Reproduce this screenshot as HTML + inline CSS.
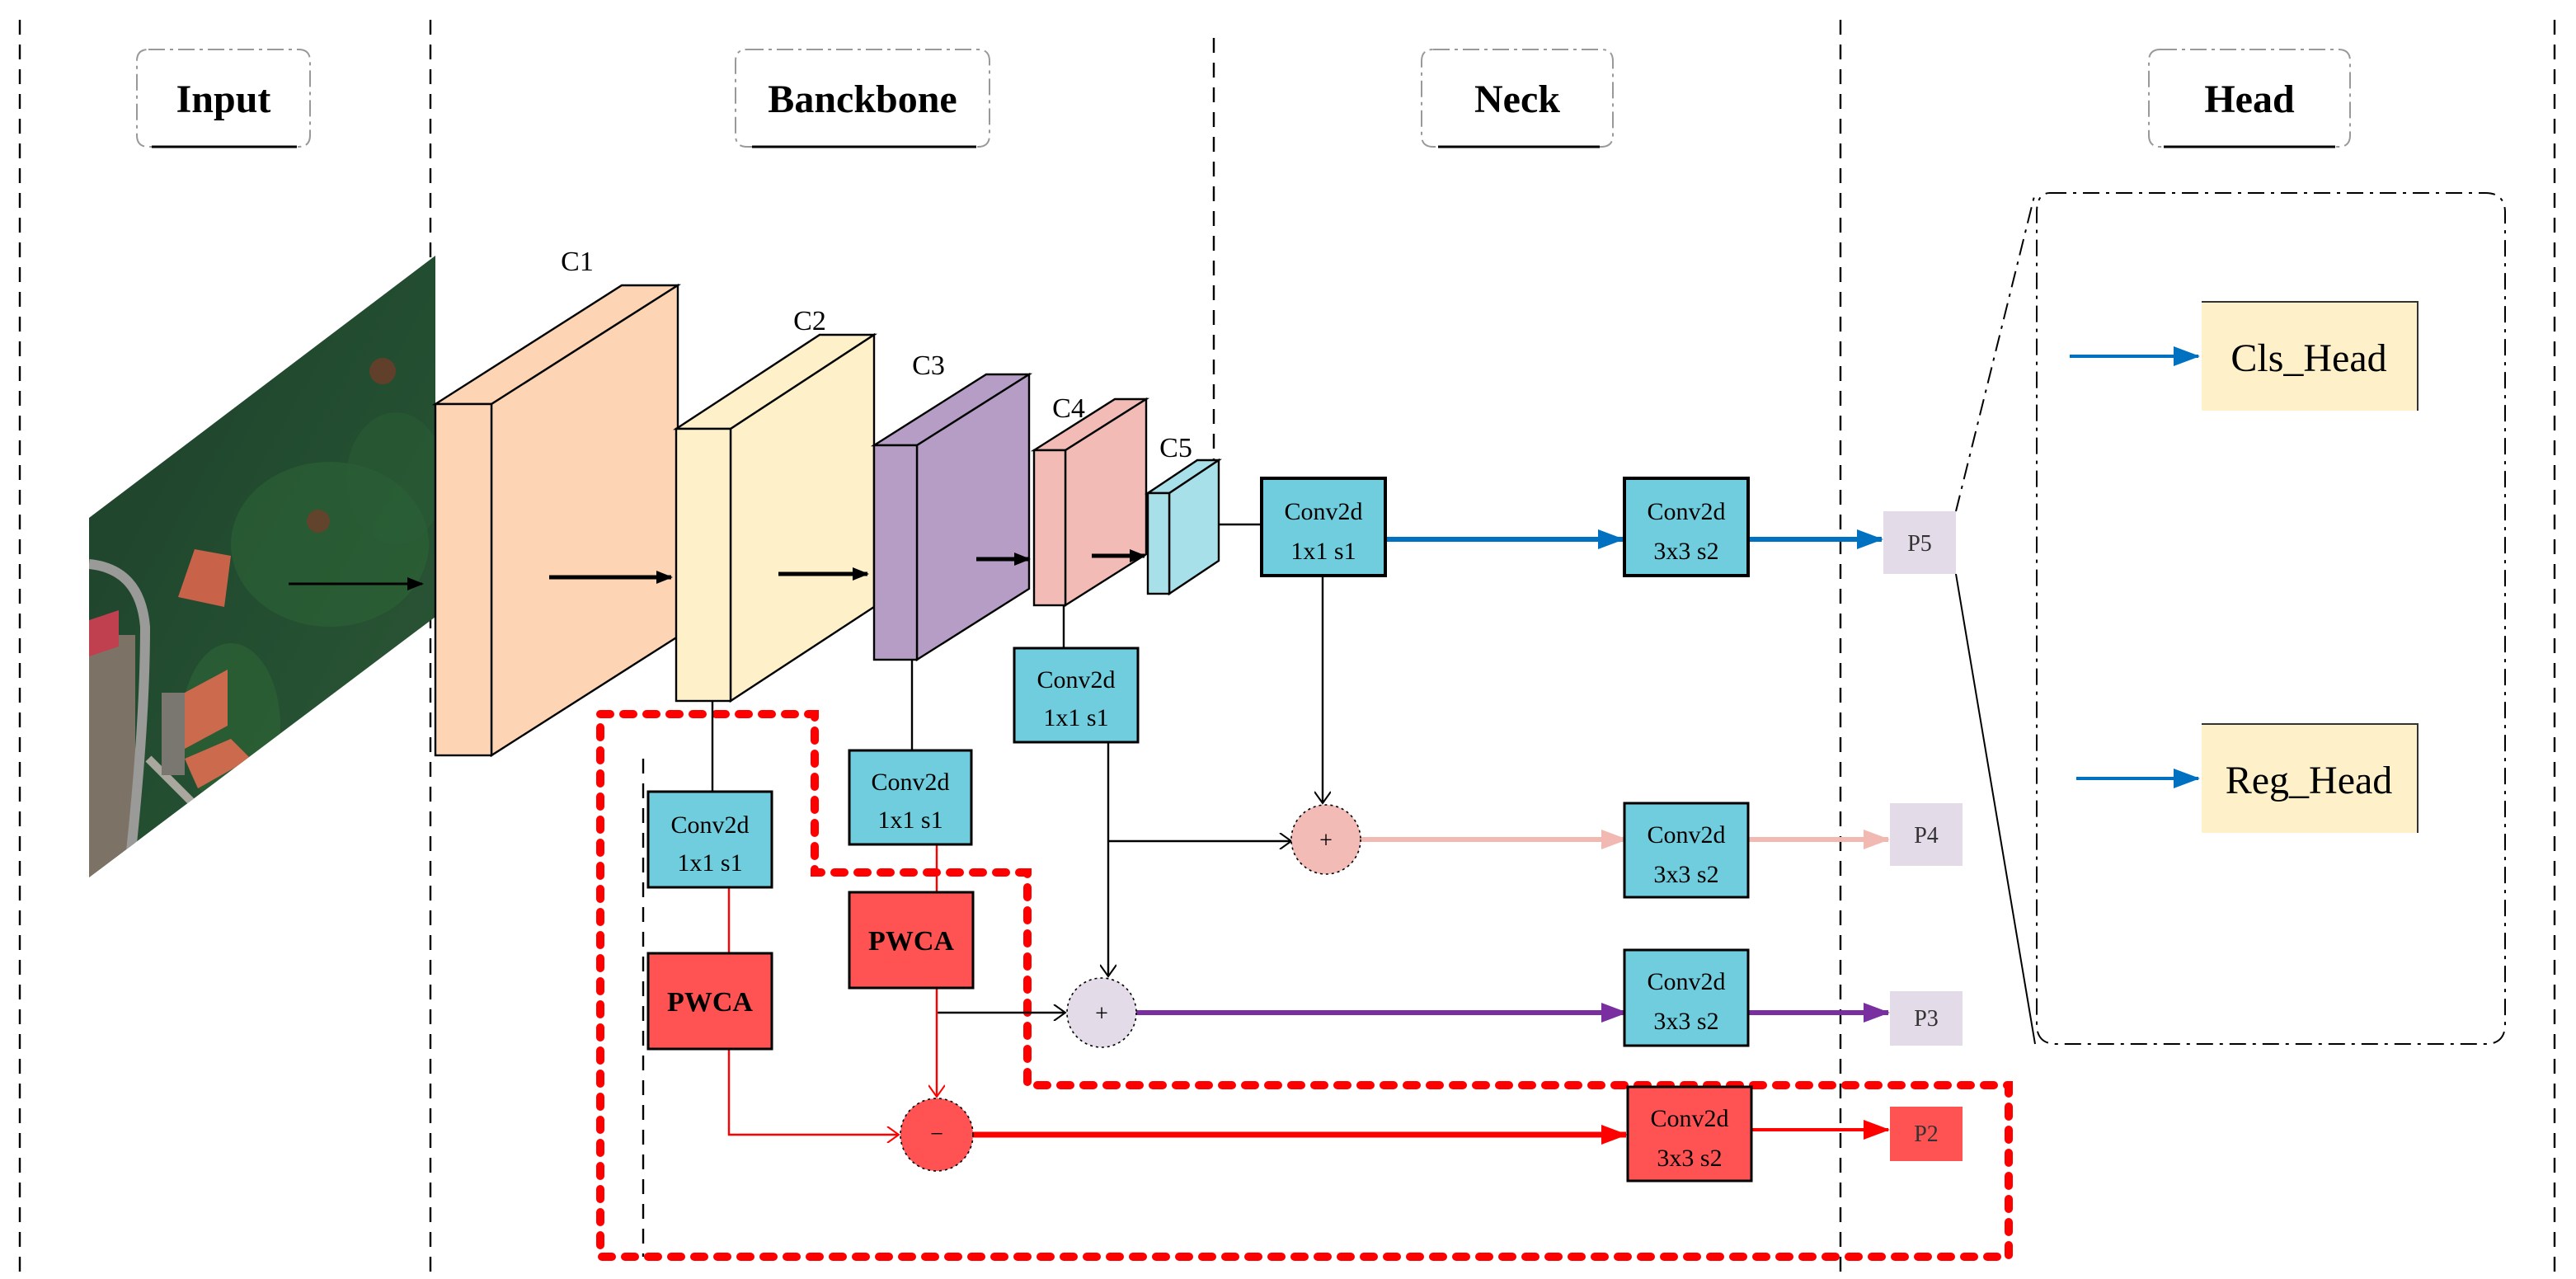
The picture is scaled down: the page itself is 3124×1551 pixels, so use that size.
<!DOCTYPE html>
<html><head><meta charset="utf-8"><style>
html,body{margin:0;padding:0;background:#fff;}
svg{display:block;}
text{font-family:"Liberation Serif",serif;}
</style></head><body>
<svg width="3124" height="1551" viewBox="0 0 1562 775.5" xmlns="http://www.w3.org/2000/svg" font-family="Liberation Serif, serif">
<defs>
<marker id="ab" markerWidth="10" markerHeight="8" refX="9" refY="4" orient="auto" markerUnits="userSpaceOnUse"><path d="M0,0 L10,4 L0,8 z" fill="#000"/></marker>
<marker id="abl" markerWidth="16" markerHeight="12" refX="15" refY="6" orient="auto" markerUnits="userSpaceOnUse"><path d="M0,0 L16,6 L0,12 z" fill="#0070c0"/></marker>
<marker id="apk" markerWidth="16" markerHeight="12" refX="15" refY="6" orient="auto" markerUnits="userSpaceOnUse"><path d="M0,0 L16,6 L0,12 z" fill="#f2b8b2"/></marker>
<marker id="apu" markerWidth="16" markerHeight="12" refX="15" refY="6" orient="auto" markerUnits="userSpaceOnUse"><path d="M0,0 L16,6 L0,12 z" fill="#7a2fa0"/></marker>
<marker id="ard" markerWidth="16" markerHeight="12" refX="15" refY="6" orient="auto" markerUnits="userSpaceOnUse"><path d="M0,0 L16,6 L0,12 z" fill="#ff0000"/></marker>
<marker id="av" markerWidth="10" markerHeight="10" refX="8" refY="5" orient="auto" markerUnits="userSpaceOnUse"><path d="M1,0 L8,5 L1,10" fill="none" stroke="#000" stroke-width="1"/></marker>
<marker id="avr" markerWidth="10" markerHeight="10" refX="8" refY="5" orient="auto" markerUnits="userSpaceOnUse"><path d="M1,0 L8,5 L1,10" fill="none" stroke="#f00" stroke-width="1"/></marker>
<linearGradient id="gr" x1="0" y1="0" x2="1" y2="1">
<stop offset="0" stop-color="#1d3f2c"/><stop offset="0.5" stop-color="#234d30"/><stop offset="1" stop-color="#2d5836"/></linearGradient>
<clipPath id="pc"><polygon points="54,314 264,155 264,374 54,532"/></clipPath>
</defs>

<g stroke="#000" stroke-width="1.2" stroke-dasharray="9,6" fill="none">
<line x1="12" y1="12" x2="12" y2="775"/>
<line x1="261" y1="12" x2="261" y2="775"/>
<line x1="736" y1="23" x2="736" y2="282"/>
<line x1="1116" y1="12" x2="1116" y2="775"/>
<line x1="1549" y1="12" x2="1549" y2="775"/>
<line x1="390" y1="460" x2="390" y2="762"/>
</g>

<g fill="none" stroke-width="1">
<path d="M90,30 H181 Q188,30 188,37 V82 Q188,89 181,89 H90 Q83,89 83,82 V37 Q83,30 90,30" stroke="#999" stroke-dasharray="10,3,2,3"/>
<line x1="92" y1="89" x2="180" y2="89" stroke="#000" stroke-width="1.5"/>
<path d="M453,30 H593 Q600,30 600,37 V82 Q600,89 593,89 H453 Q446,89 446,82 V37 Q446,30 453,30" stroke="#999" stroke-dasharray="10,3,2,3"/>
<line x1="456" y1="89" x2="592" y2="89" stroke="#000" stroke-width="1.5"/>
<path d="M869,30 H971 Q978,30 978,37 V82 Q978,89 971,89 H869 Q862,89 862,82 V37 Q862,30 869,30" stroke="#999" stroke-dasharray="10,3,2,3"/>
<line x1="872" y1="89" x2="970" y2="89" stroke="#000" stroke-width="1.5"/>
<path d="M1310,30 H1418 Q1425,30 1425,37 V82 Q1425,89 1418,89 H1310 Q1303,89 1303,82 V37 Q1303,30 1310,30" stroke="#999" stroke-dasharray="10,3,2,3"/>
<line x1="1312" y1="89" x2="1416" y2="89" stroke="#000" stroke-width="1.5"/>
</g>
<g font-weight="bold" font-size="24" text-anchor="middle">
<text x="135.5" y="68">Input</text>
<text x="523" y="68">Banckbone</text>
<text x="920" y="68">Neck</text>
<text x="1364" y="68">Head</text>
</g>

<g clip-path="url(#pc)">
<rect x="50" y="150" width="220" height="390" fill="url(#gr)"/>
<ellipse cx="200" cy="330" rx="60" ry="50" fill="#2f6a38" opacity="0.45"/>
<ellipse cx="240" cy="290" rx="30" ry="40" fill="#2a5e36" opacity="0.5"/>
<ellipse cx="140" cy="440" rx="30" ry="50" fill="#2f6a38" opacity="0.5"/>
<rect x="54" y="385" width="28" height="150" fill="#7d7266"/>
<path d="M54,342 Q85,345 88,380 Q88,440 78,530" stroke="#9a9a98" stroke-width="6" fill="none"/>
<path d="M90,460 Q110,480 125,495" stroke="#aaa79f" stroke-width="5" fill="none"/>
<polygon points="54,376 72,370 72,392 54,398" fill="#c04050"/>
<polygon points="118,333 140,337 136,368 108,362" fill="#c8634a"/>
<polygon points="112,420 138,406 138,440 112,454" fill="#cc6a4e"/>
<polygon points="112,460 140,448 152,460 120,478" fill="#cc6a4e"/>
<polygon points="98,420 112,420 112,470 98,470" fill="#7a7670"/>
<circle cx="232" cy="225" r="8" fill="#7a3a2a" opacity="0.7"/>
<circle cx="193" cy="316" r="7" fill="#7a3a2a" opacity="0.7"/>
</g>
<line x1="175" y1="354" x2="256" y2="354" stroke="#000" stroke-width="1.5" marker-end="url(#ab)"/>

<g stroke="#000" stroke-width="1.2">
<polygon points="264,245 298,245 411,173 377,173" fill="#fdd5b4"/>
<polygon points="298,245 411,173 411,386 298,458" fill="#fdd5b4"/>
<rect x="264" y="245" width="34" height="213" fill="#fdd5b4"/>
<polygon points="410,260 443,260 530,203 497,203" fill="#fef0c8"/>
<polygon points="443,260 530,203 530,368 443,425" fill="#fef0c8"/>
<rect x="410" y="260" width="33" height="165" fill="#fef0c8"/>
<polygon points="530,270 556,270 624,227 598,227" fill="#b59dc5"/>
<polygon points="556,270 624,227 624,357 556,400" fill="#b59dc5"/>
<rect x="530" y="270" width="26" height="130" fill="#b59dc5"/>
<polygon points="627,273 646,273 695,242 676,242" fill="#f2bbb5"/>
<polygon points="646,273 695,242 695,336 646,367" fill="#f2bbb5"/>
<rect x="627" y="273" width="19" height="94" fill="#f2bbb5"/>
<polygon points="696,299 709,299 739,279 726,279" fill="#a8e0ea"/>
<polygon points="709,299 739,279 739,340 709,360" fill="#a8e0ea"/>
<rect x="696" y="299" width="13" height="61" fill="#a8e0ea"/>
</g>
<g font-size="17" text-anchor="middle">
<text x="350" y="164">C1</text>
<text x="491" y="200">C2</text>
<text x="563" y="227">C3</text>
<text x="648" y="253">C4</text>
<text x="713" y="277">C5</text>
</g>
<g stroke="#000" stroke-width="2.5">
<line x1="333" y1="350" x2="407" y2="350" marker-end="url(#ab)"/>
<line x1="472" y1="348" x2="526" y2="348" marker-end="url(#ab)"/>
<line x1="592" y1="339" x2="624" y2="339" marker-end="url(#ab)"/>
<line x1="662" y1="337" x2="694" y2="337" marker-end="url(#ab)"/>
</g>

<path d="M364,433 H494 V529 H623 V658 H1218 V762 H364 Z" fill="none" stroke="#ff0000" stroke-width="5" stroke-dasharray="6,8" stroke-linecap="round"/>

<g stroke="#000" stroke-width="1.2" fill="none">
<line x1="739" y1="318" x2="767" y2="318"/>
<line x1="432" y1="425" x2="432" y2="480"/>
<line x1="553" y1="400" x2="553" y2="455"/>
<line x1="645" y1="367" x2="645" y2="393"/>
<line x1="802" y1="349" x2="802" y2="487" marker-end="url(#av)"/>
<line x1="672" y1="450" x2="672" y2="592" marker-end="url(#av)"/>
<line x1="672" y1="510" x2="783" y2="510" marker-end="url(#av)"/>
<line x1="568" y1="614" x2="646" y2="614" marker-end="url(#av)"/>
</g>
<g stroke="#ff0000" stroke-width="1.2" fill="none">
<line x1="442" y1="538" x2="442" y2="578"/>
<line x1="568" y1="512" x2="568" y2="541"/>
<polyline points="442,636 442,688 545,688" marker-end="url(#avr)"/>
<line x1="568" y1="599" x2="568" y2="665" marker-end="url(#avr)"/>
</g>

<line x1="840" y1="327" x2="984" y2="327" stroke="#0070c0" stroke-width="3" marker-end="url(#abl)"/>
<line x1="1060" y1="327" x2="1141" y2="327" stroke="#0070c0" stroke-width="3" marker-end="url(#abl)"/>
<line x1="825" y1="509" x2="986" y2="509" stroke="#f2b8b2" stroke-width="3" marker-end="url(#apk)"/>
<line x1="1060" y1="509" x2="1145" y2="509" stroke="#f2b8b2" stroke-width="3" marker-end="url(#apk)"/>
<line x1="689" y1="614" x2="986" y2="614" stroke="#7a2fa0" stroke-width="3" marker-end="url(#apu)"/>
<line x1="1060" y1="614" x2="1145" y2="614" stroke="#7a2fa0" stroke-width="3" marker-end="url(#apu)"/>
<line x1="590" y1="688" x2="986" y2="688" stroke="#ff0000" stroke-width="3.5" marker-end="url(#ard)"/>
<line x1="1062" y1="685" x2="1145" y2="685" stroke="#ff0000" stroke-width="2" marker-end="url(#ard)"/>

<circle cx="804" cy="509" r="21" fill="#f2bbb5" stroke="#000" stroke-width="0.8" stroke-dasharray="1.5,2"/>
<text x="804" y="514" font-size="14" text-anchor="middle">+</text>
<circle cx="668" cy="614" r="21" fill="#e3dbe8" stroke="#000" stroke-width="0.8" stroke-dasharray="1.5,2"/>
<text x="668" y="619" font-size="14" text-anchor="middle">+</text>
<circle cx="568" cy="688" r="22" fill="#ff5252" stroke="#000" stroke-width="0.8" stroke-dasharray="1.5,2"/>
<text x="568" y="692" font-size="14" text-anchor="middle">−</text>

<g stroke="#000" stroke-width="1.5" fill="#70cddd">
<rect x="393" y="480" width="75" height="58"/>
<rect x="515" y="455" width="74" height="57"/>
<rect x="615" y="393" width="75" height="57"/>
<rect x="765" y="290" width="75" height="59" stroke-width="2"/>
<rect x="985" y="290" width="75" height="59" stroke-width="2"/>
<rect x="985" y="487" width="75" height="57"/>
<rect x="985" y="576" width="75" height="58"/>
<rect x="987" y="659" width="75" height="57" fill="#ff5252"/>
<rect x="393" y="578" width="75" height="58" fill="#ff5252"/>
<rect x="515" y="541" width="75" height="58" fill="#ff5252"/>
</g>
<g font-size="15" text-anchor="middle">
<text x="430.5" y="505">Conv2d</text><text x="430.5" y="528">1x1  s1</text>
<text x="552" y="479">Conv2d</text><text x="552" y="502">1x1  s1</text>
<text x="652.5" y="417">Conv2d</text><text x="652.5" y="440">1x1  s1</text>
<text x="802.5" y="315">Conv2d</text><text x="802.5" y="339">1x1  s1</text>
<text x="1022.5" y="315">Conv2d</text><text x="1022.5" y="339">3x3  s2</text>
<text x="1022.5" y="511">Conv2d</text><text x="1022.5" y="535">3x3  s2</text>
<text x="1022.5" y="600">Conv2d</text><text x="1022.5" y="624">3x3  s2</text>
<text x="1024.5" y="683">Conv2d</text><text x="1024.5" y="707">3x3  s2</text>
</g>
<g font-size="17" font-weight="bold" text-anchor="middle">
<text x="430.5" y="613">PWCA</text>
<text x="552.5" y="576">PWCA</text>
</g>

<rect x="1142" y="310" width="44" height="38" fill="#e3dbe8"/>
<rect x="1146" y="487" width="44" height="38" fill="#e3dbe8"/>
<rect x="1146" y="601" width="44" height="33" fill="#e3dbe8"/>
<rect x="1146" y="671" width="44" height="33" fill="#ff5252"/>
<g font-size="14" text-anchor="middle" fill="#333">
<text x="1164" y="334">P5</text>
<text x="1168" y="511">P4</text>
<text x="1168" y="622">P3</text>
<text x="1168" y="692">P2</text>
</g>

<path d="M1243,117 H1507 Q1519,117 1519,129 V621 Q1519,633 1507,633 H1247 Q1235,633 1235,621 V129 Q1235,117 1243,117" fill="none" stroke="#000" stroke-width="1" stroke-dasharray="10,4,2,4"/>
<line x1="1186" y1="310" x2="1234" y2="117" stroke="#000" stroke-width="1" stroke-dasharray="10,4,2,4"/>
<line x1="1186" y1="348" x2="1234" y2="633" stroke="#000" stroke-width="1"/>
<rect x="1335" y="183" width="131" height="66" fill="#fef0c8"/>
<path d="M1335,183 H1466 V249" fill="none" stroke="#333" stroke-width="1"/>
<rect x="1335" y="439" width="131" height="66" fill="#fef0c8"/>
<path d="M1335,439 H1466 V505" fill="none" stroke="#333" stroke-width="1"/>
<g font-size="24" text-anchor="middle">
<text x="1400" y="225">Cls_Head</text>
<text x="1400" y="481">Reg_Head</text>
</g>
<line x1="1255" y1="216" x2="1333" y2="216" stroke="#0070c0" stroke-width="2" marker-end="url(#abl)"/>
<line x1="1259" y1="472" x2="1333" y2="472" stroke="#0070c0" stroke-width="2" marker-end="url(#abl)"/>
</svg>
</body></html>
